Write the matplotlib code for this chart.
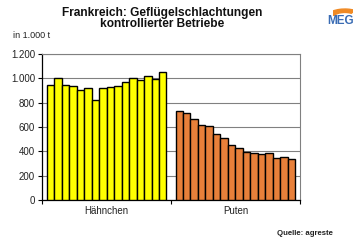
import numpy as np
import matplotlib
matplotlib.use('Agg')
import matplotlib.pyplot as plt
from matplotlib.patches import Wedge

plt.rcParams['font.family'] = ['Liberation Sans', 'DejaVu Sans']

categories = ['Hähnchen', 'Puten']
haehnchen = [946, 1003, 946, 935, 906, 919, 824, 919, 930, 938, 967, 1003, 989, 1022, 995, 1049]
puten = [729, 716, 669, 618, 607, 539, 506, 455, 427, 392, 389, 381, 384, 343, 357, 337]
yticks = [0, 200, 400, 600, 800, 1000, 1200]
ytick_labels = ['0', '200', '400', '600', '800', '1.000', '1.200']

fig = plt.figure(figsize=(3.6, 2.44), dpi=100)
ax = fig.add_axes([0.117, 0.18, 0.716, 0.599])

n = len(haehnchen)
group_width = 0.93
bar_w = group_width / n
for g, (vals, col) in enumerate([(haehnchen, '#FFFF00'), (puten, '#E8803A')]):
    x = g + (1 - group_width) / 2 + bar_w * (np.arange(n) + 0.5)
    ax.bar(x, vals, bar_w, color=col, edgecolor='black', linewidth=1.0, zorder=3)

ax.set_xlim(0, 2)
ax.set_ylim(0, 1200)
ax.set_yticks(yticks)
ax.set_yticklabels(ytick_labels, fontsize=7, color='#222222')
ax.set_xticks([0, 1, 2])
ax.set_xticklabels([])
ax.set_xticks([0.5, 1.5], minor=True)
ax.set_xticklabels(categories, minor=True, fontsize=7, color='#222222')
ax.tick_params(axis='x', which='minor', length=0, pad=4)
ax.tick_params(axis='x', which='major', length=3, width=0.8, direction='out')
ax.tick_params(axis='y', length=3, width=0.8, direction='out', pad=2)
ax.yaxis.grid(True, color='#808080', linewidth=0.8, zorder=0)
ax.set_axisbelow(True)
for s in ['top', 'right']:
    ax.spines[s].set_color('#808080')
    ax.spines[s].set_linewidth(0.8)
for s in ['left', 'bottom']:
    ax.spines[s].set_linewidth(0.9)

fig.text(0.45, 0.947, 'Frankreich: Geflügelschlachtungen', ha='center', va='center',
         fontsize=8.6, fontweight='bold', color='#111111')
fig.text(0.45, 0.9, 'kontrollierter Betriebe', ha='center', va='center',
         fontsize=8.6, fontweight='bold', color='#111111')
fig.text(0.036, 0.855, 'in 1.000 t', ha='left', va='center', fontsize=6.5, color='#222222')
fig.text(0.848, 0.041, 'Quelle: agreste', ha='center', va='center', fontsize=5.6,
         fontweight='bold', color='#222222')

# logo
fig.text(0.945, 0.912, 'MEG', ha='center', va='center', fontsize=8.5,
         fontweight='bold', color='#3A6CB4')
logo = fig.add_axes([0.925, 0.935, 0.055, 0.04])
logo.axis('off')
logo.set_xlim(0, 1)
logo.set_ylim(0, 1)
logo.add_patch(Wedge((0.6, -0.3), 1.0, 60, 150, width=0.35, color='#F08A24'))

fig.savefig('out.png', dpi=100)
